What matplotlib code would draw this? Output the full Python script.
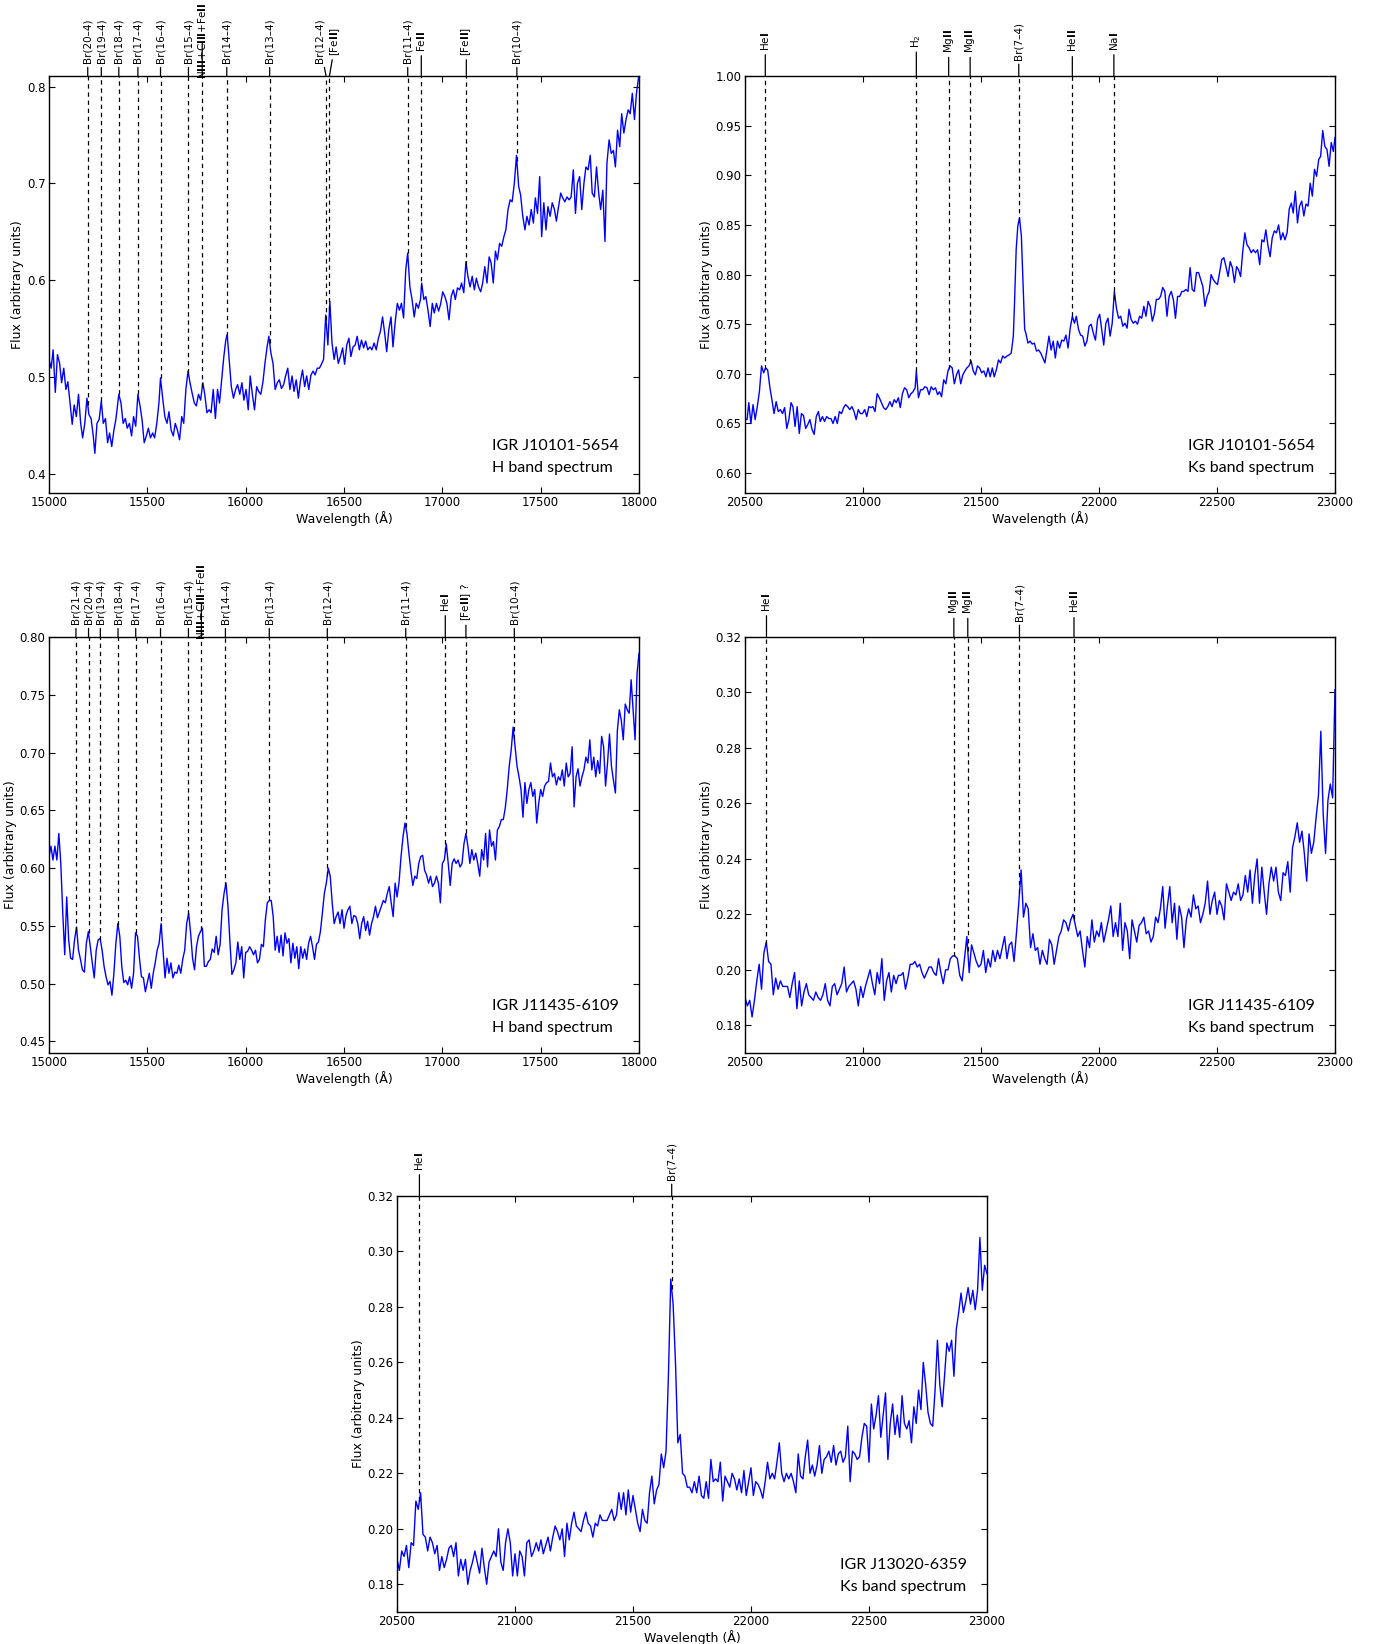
import matplotlib
matplotlib.use("Agg")
import matplotlib.pyplot as plt
import numpy as np

# ---------------- data ----------------
# Panel 1: IGR J10101-5654, H band
W1 = [15000,15011,15021,15032,15043,15054,15064,15075,15086,15096,
      15107,15118,15128,15139,15150,15161,15171,15182,15193,15203,
      15214,15225,15233,15244,15255,15266,15276,15287,15298,15308,
      15319,15330,15340,15355,15366,15377,15388,15398,15409,15420,
      15430,15441,15452,15463,15473,15484,15495,15505,15516,15527,
      15537,15548,15559,15567,15578,15589,15600,15610,15621,15632,
      15642,15653,15664,15675,15685,15696,15707,15717,15728,15739,
      15749,15760,15771,15782,15792,15803,15814,15824,15835,15846,
      15857,15867,15878,15889,15899,15906,15916,15927,15938,15949,
      15959,15970,15981,15991,16002,16013,16023,16034,16045,16056,
      16066,16077,16088,16098,16109,16118,16128,16139,16150,16161,
      16171,16182,16193,16203,16214,16225,16236,16246,16257,16268,
      16278,16289,16300,16310,16321,16332,16343,16353,16364,16375,
      16385,16396,16407,16418,16428,16439,16450,16460,16471,16482,
      16493,16503,16514,16525,16535,16546,16557,16567,16578,16589,
      16600,16610,16621,16632,16642,16653,16664,16675,16685,16696,
      16707,16717,16728,16739,16749,16760,16771,16782,16792,16803,
      16814,16824,16835,16846,16857,16867,16878,16889,16895,16906,
      16916,16927,16938,16949,16959,16970,16981,16991,17002,17013,
      17023,17034,17045,17056,17066,17077,17088,17098,17109,17120,
      17130,17141,17152,17163,17173,17184,17195,17205,17216,17227,
      17238,17248,17259,17270,17280,17291,17302,17313,17323,17334,
      17345,17355,17366,17377,17388,17398,17409,17420,17430,17441,
      17452,17463,17473,17484,17495,17505,17516,17527,17537,17548,
      17559,17570,17580,17591,17602,17612,17623,17634,17645,17655,
      17666,17677,17687,17698,17709,17720,17730,17741,17752,17762,
      17773,17784,17795,17805,17816,17827,17837,17848,17859,17870,
      17880,17891,17902,17912,17923,17934,17945,17955,17966,17977,
      17987,17998]
F1 = [0.518,0.509,0.528,0.484,0.523,0.514,0.494,0.509,0.487,0.495,
      0.473,0.451,0.471,0.459,0.482,0.452,0.437,0.452,0.478,0.461,
      0.457,0.439,0.421,0.452,0.456,0.475,0.452,0.457,0.432,0.442,
      0.428,0.445,0.456,0.482,0.473,0.452,0.457,0.447,0.452,0.439,
      0.459,0.449,0.482,0.470,0.456,0.432,0.439,0.447,0.437,0.442,
      0.437,0.452,0.473,0.499,0.478,0.459,0.452,0.464,0.445,0.439,
      0.452,0.445,0.435,0.459,0.452,0.487,0.506,0.494,0.483,0.473,
      0.470,0.482,0.476,0.494,0.482,0.463,0.466,0.463,0.487,0.457,
      0.487,0.473,0.497,0.521,0.538,0.544,0.518,0.490,0.478,0.487,
      0.492,0.482,0.494,0.476,0.487,0.466,0.501,0.482,0.466,0.490,
      0.485,0.482,0.495,0.514,0.531,0.542,0.525,0.514,0.487,0.494,
      0.497,0.488,0.492,0.501,0.509,0.487,0.501,0.485,0.497,0.478,
      0.495,0.507,0.490,0.501,0.487,0.502,0.506,0.502,0.509,0.509,
      0.513,0.518,0.564,0.533,0.578,0.535,0.518,0.531,0.514,0.521,
      0.530,0.513,0.533,0.540,0.521,0.531,0.533,0.542,0.528,0.538,
      0.530,0.537,0.528,0.531,0.528,0.535,0.528,0.540,0.547,0.562,
      0.545,0.526,0.549,0.562,0.531,0.556,0.576,0.569,0.576,0.561,
      0.611,0.628,0.593,0.580,0.562,0.576,0.571,0.580,0.597,0.580,
      0.583,0.569,0.552,0.576,0.566,0.576,0.568,0.575,0.588,0.583,
      0.576,0.559,0.583,0.590,0.580,0.592,0.590,0.597,0.587,0.619,
      0.604,0.593,0.604,0.590,0.602,0.593,0.588,0.597,0.614,0.597,
      0.624,0.618,0.597,0.630,0.621,0.638,0.635,0.645,0.652,0.673,
      0.683,0.681,0.700,0.729,0.697,0.688,0.666,0.652,0.666,0.657,
      0.673,0.659,0.685,0.669,0.707,0.645,0.680,0.652,0.676,0.666,
      0.680,0.673,0.661,0.676,0.690,0.685,0.681,0.686,0.683,0.686,
      0.714,0.669,0.700,0.707,0.673,0.700,0.717,0.714,0.729,0.690,
      0.686,0.717,0.690,0.673,0.693,0.640,0.721,0.745,0.731,0.734,
      0.717,0.755,0.738,0.772,0.752,0.766,0.776,0.772,0.793,0.766,
      0.793,0.810]

# Panel 2: IGR J10101-5654, Ks band
W2 = [20500,20509,20516,20525,20534,20543,20552,20561,20570,20579,
      20587,20596,20605,20614,20623,20632,20641,20650,20659,20668,
      20677,20686,20695,20703,20712,20721,20730,20739,20748,20757,
      20766,20775,20784,20793,20802,20811,20819,20828,20837,20846,
      20855,20864,20873,20882,20891,20900,20909,20918,20926,20935,
      20944,20953,20962,20971,20980,20989,20998,21007,21016,21025,
      21034,21042,21051,21060,21069,21078,21087,21096,21105,21114,
      21123,21132,21141,21150,21158,21167,21176,21185,21194,21203,
      21212,21221,21226,21235,21244,21253,21262,21271,21280,21289,
      21298,21307,21316,21324,21333,21342,21351,21360,21369,21378,
      21387,21396,21405,21414,21423,21432,21440,21449,21458,21467,
      21476,21485,21494,21503,21512,21521,21530,21539,21548,21556,
      21565,21574,21583,21592,21601,21610,21619,21628,21637,21642,
      21649,21656,21663,21671,21678,21685,21690,21699,21708,21717,
      21726,21735,21744,21753,21762,21771,21779,21788,21797,21806,
      21815,21824,21833,21842,21851,21860,21869,21878,21887,21896,
      21904,21913,21922,21931,21940,21949,21958,21967,21976,21985,
      21994,22003,22011,22020,22029,22038,22047,22056,22065,22074,
      22083,22092,22101,22110,22119,22127,22136,22145,22154,22163,
      22172,22181,22190,22199,22208,22217,22226,22235,22243,22252,
      22261,22270,22279,22288,22297,22306,22315,22324,22333,22342,
      22351,22359,22368,22377,22386,22395,22404,22413,22422,22431,
      22440,22449,22458,22467,22475,22484,22493,22502,22511,22520,
      22529,22538,22547,22556,22565,22574,22583,22591,22600,22609,
      22618,22627,22636,22645,22654,22663,22672,22681,22690,22699,
      22707,22716,22725,22734,22743,22752,22761,22770,22779,22788,
      22797,22806,22815,22823,22832,22841,22850,22859,22868,22877,
      22886,22895,22904,22913,22922,22931,22939,22948,22957,22966,
      22975,22984,22993,23000]
F2 = [0.654,0.654,0.671,0.650,0.669,0.654,0.667,0.682,0.708,0.701,
      0.706,0.704,0.687,0.674,0.660,0.672,0.662,0.664,0.660,0.666,
      0.645,0.654,0.671,0.667,0.647,0.667,0.640,0.660,0.658,0.645,
      0.649,0.654,0.644,0.639,0.657,0.662,0.652,0.657,0.652,0.657,
      0.655,0.655,0.650,0.657,0.650,0.662,0.660,0.666,0.669,0.667,
      0.664,0.667,0.662,0.654,0.664,0.660,0.660,0.664,0.657,0.667,
      0.666,0.667,0.662,0.680,0.676,0.671,0.666,0.664,0.667,0.672,
      0.667,0.674,0.671,0.676,0.666,0.680,0.686,0.684,0.676,0.680,
      0.682,0.686,0.703,0.676,0.684,0.684,0.687,0.686,0.679,0.687,
      0.684,0.686,0.679,0.682,0.677,0.694,0.690,0.703,0.708,0.706,
      0.690,0.699,0.704,0.690,0.699,0.703,0.706,0.708,0.713,0.703,
      0.699,0.708,0.706,0.701,0.703,0.697,0.706,0.697,0.706,0.697,
      0.704,0.714,0.711,0.718,0.716,0.718,0.719,0.721,0.738,0.771,
      0.825,0.849,0.857,0.839,0.792,0.745,0.741,0.731,0.733,0.730,
      0.731,0.723,0.724,0.721,0.716,0.711,0.724,0.738,0.724,0.733,
      0.716,0.733,0.726,0.734,0.733,0.739,0.726,0.746,0.758,0.751,
      0.758,0.745,0.739,0.738,0.728,0.733,0.748,0.750,0.741,0.734,
      0.755,0.760,0.745,0.729,0.751,0.756,0.738,0.751,0.783,0.766,
      0.756,0.758,0.748,0.751,0.746,0.765,0.755,0.751,0.753,0.750,
      0.758,0.756,0.768,0.758,0.773,0.768,0.753,0.761,0.775,0.775,
      0.778,0.787,0.783,0.758,0.778,0.783,0.775,0.756,0.778,0.778,
      0.783,0.783,0.785,0.783,0.807,0.785,0.783,0.802,0.802,0.795,
      0.788,0.768,0.778,0.783,0.800,0.795,0.792,0.790,0.802,0.815,
      0.817,0.808,0.798,0.813,0.807,0.792,0.808,0.805,0.798,0.823,
      0.842,0.830,0.827,0.822,0.825,0.822,0.825,0.810,0.835,0.833,
      0.845,0.829,0.818,0.837,0.844,0.842,0.850,0.835,0.842,0.835,
      0.842,0.866,0.872,0.862,0.884,0.852,0.869,0.874,0.859,0.871,
      0.869,0.892,0.879,0.906,0.899,0.916,0.919,0.945,0.929,0.926,
      0.909,0.933,0.924,0.938]

# Panel 3: IGR J11435-6109, H band (10 A sampling)
W3 = [15000,15010,15020,15030,15040,15050,15060,15070,15080,15090,
      15100,15110,15120,15130,15140,15150,15160,15170,15180,15190,
      15200,15210,15220,15230,15240,15250,15260,15270,15280,15290,
      15300,15310,15320,15330,15340,15350,15360,15370,15380,15390,
      15400,15410,15420,15430,15440,15450,15460,15470,15480,15490,
      15500,15510,15520,15530,15540,15550,15560,15570,15580,15590,
      15600,15610,15620,15630,15640,15650,15660,15670,15680,15690,
      15700,15710,15720,15730,15740,15750,15760,15770,15780,15790,
      15800,15810,15820,15830,15840,15850,15860,15870,15880,15890,
      15900,15910,15920,15930,15940,15950,15960,15970,15980,15990,
      16000,16010,16020,16030,16040,16050,16060,16070,16080,16090,
      16100,16110,16120,16130,16140,16150,16160,16170,16180,16190,
      16200,16210,16220,16230,16240,16250,16260,16270,16280,16290,
      16300,16310,16320,16330,16340,16350,16360,16370,16380,16390,
      16400,16410,16420,16430,16440,16450,16460,16470,16480,16490,
      16500,16510,16520,16530,16540,16550,16560,16570,16580,16590,
      16600,16610,16620,16630,16640,16650,16660,16670,16680,16690,
      16700,16710,16720,16730,16740,16750,16760,16770,16780,16790,
      16800,16810,16820,16830,16840,16850,16860,16870,16880,16890,
      16900,16910,16920,16930,16940,16950,16960,16970,16980,16990,
      17000,17010,17020,17030,17040,17050,17060,17070,17080,17090,
      17100,17110,17120,17130,17140,17150,17160,17170,17180,17190,
      17200,17210,17220,17230,17240,17250,17260,17270,17280,17290,
      17300,17310,17320,17330,17340,17350,17360,17370,17380,17390,
      17400,17410,17420,17430,17440,17450,17460,17470,17480,17490,
      17500,17510,17520,17530,17540,17550,17560,17570,17580,17590,
      17600,17610,17620,17630,17640,17650,17660,17670,17680,17690,
      17700,17710,17720,17730,17740,17750,17760,17770,17780,17790,
      17800,17810,17820,17830,17840,17850,17860,17870,17880,17890,
      17900,17910,17920,17930,17940,17950,17960,17970,17980,17990,
      18000]
F3 = [0.610,0.619,0.607,0.619,0.607,0.630,0.604,0.561,0.525,0.575,
      0.538,0.522,0.521,0.538,0.549,0.529,0.521,0.512,0.510,0.535,
      0.545,0.532,0.518,0.505,0.529,0.538,0.539,0.529,0.515,0.506,
      0.499,0.502,0.490,0.509,0.535,0.552,0.541,0.515,0.501,0.503,
      0.499,0.506,0.496,0.509,0.544,0.541,0.522,0.506,0.505,0.493,
      0.501,0.509,0.496,0.509,0.518,0.529,0.535,0.552,0.529,0.505,
      0.522,0.509,0.518,0.505,0.510,0.509,0.516,0.509,0.521,0.529,
      0.552,0.561,0.544,0.522,0.512,0.532,0.541,0.545,0.548,0.515,
      0.515,0.519,0.521,0.530,0.527,0.541,0.525,0.534,0.564,0.578,
      0.587,0.567,0.536,0.508,0.512,0.518,0.536,0.521,0.532,0.505,
      0.527,0.528,0.532,0.529,0.525,0.529,0.518,0.521,0.534,0.532,
      0.555,0.570,0.572,0.572,0.558,0.529,0.541,0.527,0.542,0.524,
      0.544,0.535,0.539,0.518,0.535,0.522,0.532,0.513,0.532,0.522,
      0.530,0.521,0.535,0.541,0.532,0.521,0.534,0.536,0.545,0.561,
      0.578,0.587,0.600,0.593,0.570,0.552,0.558,0.562,0.552,0.564,
      0.548,0.559,0.564,0.567,0.552,0.559,0.558,0.552,0.539,0.552,
      0.558,0.546,0.554,0.542,0.552,0.558,0.567,0.557,0.562,0.567,
      0.572,0.570,0.578,0.584,0.570,0.558,0.587,0.575,0.588,0.610,
      0.627,0.639,0.630,0.613,0.598,0.585,0.593,0.591,0.604,0.610,
      0.611,0.598,0.594,0.587,0.593,0.584,0.587,0.593,0.587,0.570,
      0.604,0.607,0.621,0.604,0.585,0.604,0.608,0.604,0.607,0.601,
      0.604,0.621,0.630,0.619,0.604,0.616,0.607,0.613,0.604,0.593,
      0.616,0.607,0.630,0.601,0.633,0.619,0.623,0.607,0.633,0.636,
      0.642,0.642,0.652,0.668,0.688,0.702,0.722,0.705,0.688,0.679,
      0.668,0.644,0.674,0.656,0.668,0.674,0.662,0.668,0.639,0.656,
      0.668,0.662,0.671,0.674,0.675,0.691,0.679,0.682,0.672,0.679,
      0.676,0.685,0.671,0.691,0.679,0.682,0.705,0.653,0.679,0.686,
      0.671,0.679,0.685,0.696,0.691,0.711,0.685,0.696,0.679,0.693,
      0.682,0.714,0.705,0.671,0.691,0.716,0.688,0.676,0.665,0.719,
      0.737,0.728,0.711,0.742,0.737,0.734,0.763,0.737,0.711,0.768,
      0.786]

# Ks-band sampling (10 A) shared by panels 4 and 5
WKS = [20500,20510,20520,20530,20540,20550,20560,20570,20580,20590,
       20600,20610,20620,20630,20640,20650,20660,20670,20680,20690,
       20700,20710,20720,20730,20740,20750,20760,20770,20780,20790,
       20800,20810,20820,20830,20840,20850,20860,20870,20880,20890,
       20900,20910,20920,20930,20940,20950,20960,20970,20980,20990,
       21000,21010,21020,21030,21040,21050,21060,21070,21080,21090,
       21100,21110,21120,21130,21140,21150,21160,21170,21180,21190,
       21200,21210,21220,21230,21240,21250,21260,21270,21280,21290,
       21300,21310,21320,21330,21340,21350,21360,21370,21380,21390,
       21400,21410,21420,21430,21440,21450,21460,21470,21480,21490,
       21500,21510,21520,21530,21540,21550,21560,21570,21580,21590,
       21600,21610,21620,21630,21640,21650,21660,21670,21680,21690,
       21700,21710,21720,21730,21740,21750,21760,21770,21780,21790,
       21800,21810,21820,21830,21840,21850,21860,21870,21880,21890,
       21900,21910,21920,21930,21940,21950,21960,21970,21980,21990,
       22000,22010,22020,22030,22040,22050,22060,22070,22080,22090,
       22100,22110,22120,22130,22140,22150,22160,22170,22180,22190,
       22200,22210,22220,22230,22240,22250,22260,22270,22280,22290,
       22300,22310,22320,22330,22340,22350,22360,22370,22380,22390,
       22400,22410,22420,22430,22440,22450,22460,22470,22480,22490,
       22500,22510,22520,22530,22540,22550,22560,22570,22580,22590,
       22600,22610,22620,22630,22640,22650,22660,22670,22680,22690,
       22700,22710,22720,22730,22740,22750,22760,22770,22780,22790,
       22800,22810,22820,22830,22840,22850,22860,22870,22880,22890,
       22900,22910,22920,22930,22940,22950,22960,22970,22980,22990,
       23000]

# Panel 4: IGR J11435-6109, Ks band
F4 = [0.190,0.187,0.189,0.183,0.189,0.196,0.202,0.193,0.206,0.210,
      0.203,0.202,0.191,0.197,0.193,0.196,0.194,0.194,0.194,0.190,
      0.195,0.199,0.186,0.196,0.187,0.192,0.195,0.191,0.190,0.189,
      0.192,0.190,0.189,0.191,0.195,0.189,0.187,0.194,0.195,0.191,
      0.193,0.195,0.201,0.192,0.194,0.195,0.196,0.193,0.187,0.194,
      0.190,0.194,0.197,0.200,0.195,0.191,0.199,0.195,0.204,0.189,
      0.196,0.199,0.192,0.198,0.195,0.198,0.198,0.199,0.193,0.197,
      0.202,0.202,0.203,0.201,0.202,0.199,0.197,0.199,0.201,0.201,
      0.199,0.198,0.204,0.199,0.195,0.200,0.200,0.204,0.205,0.205,
      0.204,0.198,0.196,0.204,0.212,0.199,0.209,0.206,0.203,0.201,
      0.202,0.207,0.199,0.204,0.201,0.207,0.203,0.207,0.204,0.208,
      0.212,0.204,0.209,0.210,0.203,0.213,0.224,0.236,0.219,0.224,
      0.222,0.208,0.213,0.207,0.208,0.202,0.207,0.204,0.202,0.211,
      0.209,0.202,0.207,0.212,0.214,0.218,0.217,0.214,0.218,0.220,
      0.216,0.212,0.214,0.207,0.201,0.212,0.208,0.218,0.210,0.214,
      0.212,0.217,0.210,0.214,0.218,0.223,0.212,0.217,0.212,0.224,
      0.207,0.217,0.214,0.204,0.218,0.214,0.210,0.216,0.217,0.219,
      0.213,0.214,0.210,0.212,0.219,0.217,0.222,0.230,0.215,0.223,
      0.230,0.217,0.224,0.211,0.223,0.219,0.208,0.218,0.222,0.219,
      0.227,0.222,0.223,0.217,0.220,0.224,0.232,0.220,0.225,0.228,
      0.220,0.225,0.223,0.218,0.231,0.228,0.225,0.228,0.227,0.231,
      0.225,0.227,0.234,0.228,0.236,0.224,0.234,0.240,0.224,0.237,
      0.228,0.220,0.231,0.237,0.232,0.237,0.228,0.225,0.235,0.234,
      0.239,0.228,0.244,0.248,0.253,0.246,0.250,0.242,0.232,0.249,
      0.242,0.246,0.255,0.263,0.286,0.256,0.242,0.261,0.267,0.262,
      0.301]

# Panel 5: IGR J13020-6359, Ks band
F5 = [0.189,0.185,0.192,0.190,0.194,0.186,0.195,0.194,0.210,0.207,
      0.213,0.198,0.197,0.192,0.197,0.195,0.191,0.194,0.185,0.190,
      0.186,0.189,0.193,0.194,0.190,0.195,0.183,0.189,0.185,0.189,
      0.180,0.185,0.188,0.192,0.188,0.184,0.193,0.186,0.180,0.188,
      0.190,0.192,0.190,0.200,0.188,0.185,0.195,0.200,0.195,0.183,
      0.191,0.183,0.192,0.190,0.183,0.195,0.196,0.190,0.192,0.195,
      0.192,0.196,0.191,0.194,0.197,0.192,0.197,0.201,0.199,0.196,
      0.200,0.190,0.202,0.196,0.202,0.206,0.201,0.200,0.199,0.203,
      0.206,0.202,0.201,0.197,0.202,0.201,0.205,0.203,0.203,0.203,
      0.205,0.207,0.203,0.205,0.213,0.207,0.213,0.205,0.214,0.206,
      0.212,0.207,0.202,0.199,0.207,0.203,0.202,0.213,0.219,0.209,
      0.214,0.216,0.227,0.222,0.228,0.255,0.290,0.281,0.260,0.231,
      0.234,0.220,0.219,0.215,0.215,0.213,0.217,0.213,0.219,0.212,
      0.211,0.217,0.211,0.225,0.217,0.218,0.217,0.224,0.210,0.219,
      0.217,0.215,0.220,0.218,0.214,0.218,0.213,0.221,0.212,0.217,
      0.222,0.212,0.217,0.216,0.214,0.211,0.217,0.224,0.218,0.220,
      0.218,0.224,0.231,0.220,0.217,0.220,0.218,0.220,0.217,0.213,
      0.227,0.219,0.218,0.226,0.232,0.220,0.223,0.219,0.223,0.230,
      0.220,0.225,0.226,0.228,0.224,0.230,0.223,0.227,0.228,0.224,
      0.226,0.237,0.217,0.228,0.227,0.225,0.226,0.233,0.238,0.237,
      0.224,0.245,0.236,0.241,0.248,0.233,0.241,0.249,0.225,0.238,
      0.245,0.234,0.241,0.233,0.248,0.238,0.236,0.239,0.231,0.244,
      0.238,0.250,0.243,0.260,0.252,0.242,0.238,0.237,0.250,0.268,
      0.252,0.244,0.255,0.267,0.264,0.268,0.255,0.272,0.278,0.285,
      0.278,0.282,0.287,0.281,0.286,0.279,0.286,0.305,0.286,0.295,
      0.292]

# line identifications
L1_WAVE = [15197, 15266, 15355, 15452, 15567, 15709, 15779, 15904, 16122,
           16409, 16426, 16824, 16893, 17122, 17379]
L1_TEXT = ["Br(20–4)", "Br(19–4)", "Br(18–4)", "Br(17–4)", "Br(16–4)", "Br(15–4)",
           r"N$\mathbf{III}$+C$\mathbf{III}$+Fe$\mathbf{II}$", "Br(14–4)", "Br(13–4)",
           "Br(12–4)", r"[Fe$\mathbf{II}$]", "Br(11–4)", r"Fe$\mathbf{II}$",
           r"[Fe$\mathbf{II}$]", "Br(10–4)"]
L2_WAVE = [20586, 21226, 21363, 21454, 21660, 21887, 22063]
L2_TEXT = [r"He$\mathbf{I}$", r"H$_2$", r"Mg$\mathbf{II}$", r"Mg$\mathbf{II}$",
           "Br(7–4)", r"He$\mathbf{II}$", r"Na$\mathbf{I}$"]
L3_WAVE = [15137, 15201, 15261, 15351, 15441, 15567, 15709, 15775, 15897, 16120,
           16415, 16814, 17015, 17120, 17366]
L3_TEXT = ["Br(21–4)", "Br(20–4)", "Br(19–4)", "Br(18–4)", "Br(17–4)", "Br(16–4)",
           "Br(15–4)", r"N$\mathbf{III}$+C$\mathbf{III}$+Fe$\mathbf{II}$", "Br(14–4)",
           "Br(13–4)", "Br(12–4)", "Br(11–4)", r"He$\mathbf{I}$", r"[Fe$\mathbf{II}$] ?",
           "Br(10–4)"]
L4_WAVE = [20591, 21385, 21444, 21663, 21894]
L4_TEXT = [r"He$\mathbf{I}$", r"Mg$\mathbf{II}$", r"Mg$\mathbf{II}$", "Br(7–4)",
           r"He$\mathbf{II}$"]
L5_WAVE = [20595, 21664]
L5_TEXT = [r"He$\mathbf{I}$", "Br(7–4)"]

H_XTICKS = [15000, 15500, 16000, 16500, 17000, 17500, 18000]
K_XTICKS = [20500, 21000, 21500, 22000, 22500, 23000]

# ---------------- figure ----------------
plt.rcParams.update({
    "font.family": "DejaVu Sans",
    "mathtext.default": "regular",
    "xtick.direction": "in", "ytick.direction": "in",
    "xtick.top": True, "ytick.right": True,
    "xtick.major.size": 4, "ytick.major.size": 4,
    "xtick.major.pad": 2.5, "ytick.major.pad": 2.5,
    "xtick.labelsize": 8.5, "ytick.labelsize": 8.5,
    "axes.linewidth": 1.0,
})

W, H = 1380, 1644
fig = plt.figure(figsize=(W / 100, H / 100), dpi=100)


def rect(left, top, right, bottom):
    return [left / W, 1 - bottom / H, (right - left) / W, (bottom - top) / H]


def panel(r, wave, flux, xlim, ylim, xticks, yticks, lw_, lt_, name, band, dx=None):
    dx = dx or {}
    ax = fig.add_axes(r)
    ax.plot(wave, flux, color="#0000ff", lw=1.0)
    ax.set_xlim(*xlim)
    ax.set_ylim(*ylim)
    ax.set_xticks(xticks)
    ax.set_yticks(yticks)
    for i, (lam, lab) in enumerate(zip(lw_, lt_)):
        f = np.interp(lam, wave, flux)
        ax.vlines(lam, f, ylim[1], colors="k", linestyles=(0, (3.5, 3)), lw=0.9)
        ax.annotate(lab, xy=(lam, 1.0), xycoords=("data", "axes fraction"),
                    xytext=(dx.get(i, 0), 35), textcoords="offset pixels",
                    rotation=90, ha="center", va="center", fontsize=7.5,
                    arrowprops=dict(arrowstyle="-", color="k", lw=0.9,
                                    shrinkA=1.0, shrinkB=0),
                    annotation_clip=False)
    ax.set_xlabel("Wavelength (Å)", fontsize=9, labelpad=1)
    ax.set_ylabel("Flux (arbitrary units)", fontsize=9, labelpad=2)
    ax.text(0.75, 0.103, name, transform=ax.transAxes, fontfamily="Lato",
            fontsize=11.5, va="baseline", ha="left")
    ax.text(0.75, 0.05, band, transform=ax.transAxes, fontfamily="Lato",
            fontsize=11.5, va="baseline", ha="left")
    return ax


panel(rect(49, 76, 639, 493), W1, F1, (15000, 18000), (0.38, 0.811),
      H_XTICKS, [0.4, 0.5, 0.6, 0.7, 0.8], L1_WAVE, L1_TEXT,
      "IGR J10101-5654", "H band spectrum", dx={9: -7, 10: 6})
panel(rect(745, 76, 1335, 493), W2, F2, (20500, 23000), (0.58, 1.0),
      K_XTICKS, [0.60, 0.65, 0.70, 0.75, 0.80, 0.85, 0.90, 0.95, 1.00],
      L2_WAVE, L2_TEXT, "IGR J10101-5654", "Ks band spectrum")
panel(rect(49, 637, 639, 1053), W3, F3, (15000, 18000), (0.44, 0.80),
      H_XTICKS, [0.45, 0.50, 0.55, 0.60, 0.65, 0.70, 0.75, 0.80],
      L3_WAVE, L3_TEXT, "IGR J11435-6109", "H band spectrum")
panel(rect(745, 637, 1335, 1053), WKS, F4, (20500, 23000), (0.17, 0.32),
      K_XTICKS, [0.18, 0.20, 0.22, 0.24, 0.26, 0.28, 0.30, 0.32],
      L4_WAVE, L4_TEXT, "IGR J11435-6109", "Ks band spectrum")
panel(rect(397, 1196, 987, 1612), WKS, F5, (20500, 23000), (0.17, 0.32),
      K_XTICKS, [0.18, 0.20, 0.22, 0.24, 0.26, 0.28, 0.30, 0.32],
      L5_WAVE, L5_TEXT, "IGR J13020-6359", "Ks band spectrum")

fig.savefig("out.png", dpi=100)
